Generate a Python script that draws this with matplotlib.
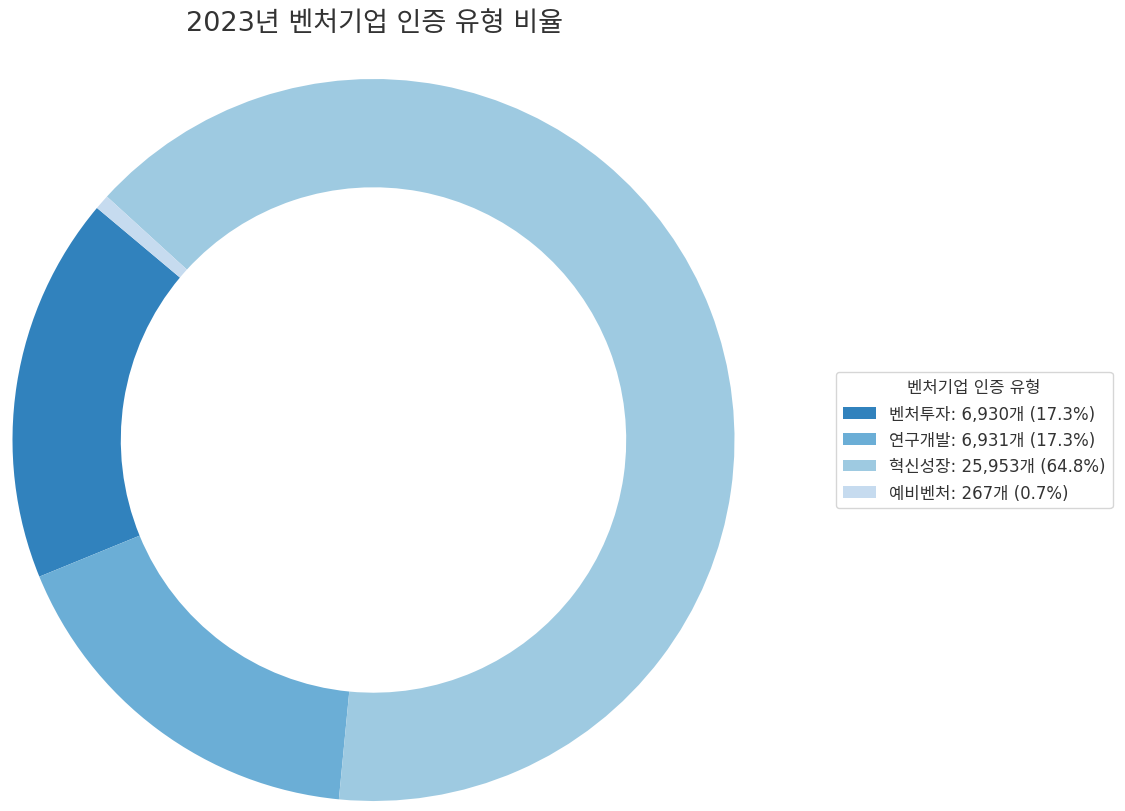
import matplotlib.pyplot as plt

plt.rcParams['font.family'] = ['DejaVu Sans', 'Noto Sans CJK KR']

types = ['벤처투자', '연구개발', '혁신성장', '예비벤처']
counts = [6930, 6931, 25953, 267]
colors = ['#3182bd', '#6baed6', '#9ecae1', '#c6dbef']

total = sum(counts)
labels = [f'{t}: {c:,}개 ({c / total * 100:.1f}%)' for t, c in zip(types, counts)]

fig = plt.figure(figsize=(11.25, 8.12), dpi=100)
ax = fig.add_axes([12 / 1125, 10 / 812, 723 / 1125, 722 / 812])

wedges, _ = ax.pie(counts, colors=colors, startangle=140, counterclock=True,
                   wedgeprops=dict(width=0.3, edgecolor='none'))
ax.set_xlim(-1, 1)
ax.set_ylim(-1, 1)
ax.set_aspect('equal')

fig.text(374 / 1125, 1 - 24 / 812, '2023년 벤처기업 인증 유형 비율',
         ha='center', va='center', fontsize=19.5, color='#333333')

leg = fig.legend(wedges, labels, title='벤처기업 인증 유형',
                 loc='center left', bbox_to_anchor=(836 / 1125, 1 - 441 / 812),
                 borderaxespad=0, fontsize=12, title_fontsize=12,
                 frameon=True, fancybox=True,
                 edgecolor='#cccccc', labelcolor='#333333')
leg.get_title().set_color('#333333')

fig.savefig('out.png', dpi=100)
